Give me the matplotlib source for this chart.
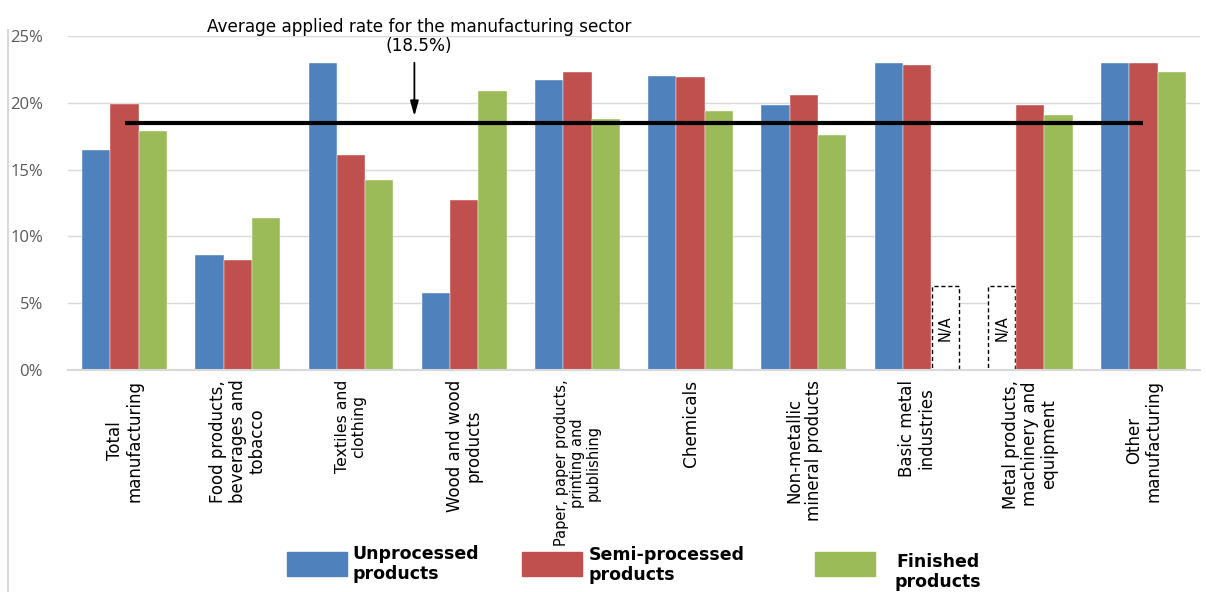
import numpy as np
import matplotlib
matplotlib.use('Agg')
import matplotlib.pyplot as plt
from matplotlib.patches import Rectangle
from matplotlib.lines import Line2D

# 数据（从原图读取，单位 %）
categories = [
    "Total\nmanufacturing",
    "Food products,\nbeverages and\ntobacco",
    "Textiles and\nclothing",
    "Wood and wood\nproducts",
    "Paper, paper products,\nprinting and\npublishing",
    "Chemicals",
    "Non-metallic\nmineral products",
    "Basic metal\nindustries",
    "Metal products,\nmachinery and\nequipment",
    "Other\nmanufacturing",
]
unprocessed = [16.5, 8.6, 23.0, 5.8, 21.7, 22.0, 19.8, 23.0, np.nan, 23.0]
semi_processed = [19.9, 8.2, 16.1, 12.7, 22.3, 21.9, 20.6, 22.8, 19.8, 23.0]
finished = [17.9, 11.4, 14.2, 20.9, 18.8, 19.4, 17.6, np.nan, 19.1, 22.3]
average_rate = 18.5
na_box_height = 6.3

series_names = ["Unprocessed\nproducts", "Semi-processed\nproducts", "Finished\nproducts"]
colors = ['#4F81BD', '#C0504D', '#9BBB59']
label_sizes = [12, 12, 11.3, 12, 10.5, 12.2, 12, 12, 12, 12]

W, H = 1206, 592
fig = plt.figure(figsize=(W / 100, H / 100), dpi=100)
ax = fig.add_axes([68 / W, 1 - 370 / H, (1200 - 68) / W, (370 - 36) / H])

x = np.arange(len(categories))
bw = 0.25
all_series = [unprocessed, semi_processed, finished]
for k, (vals, c) in enumerate(zip(all_series, colors)):
    pos = x + (k - 1) * bw
    vals = np.array(vals, dtype=float)
    ax.bar(pos, vals, width=bw, color=c, edgecolor='white', linewidth=0.3, zorder=2)
    # N/A 虚线框
    na = np.isnan(vals)
    if na.any():
        ax.bar(pos[na], [na_box_height] * na.sum(), width=bw * 0.95, facecolor='white',
               edgecolor='black', linestyle=(0, (3, 2)), linewidth=1.0, zorder=2)
        for p in pos[na]:
            ax.text(p, na_box_height / 2, 'N/A', rotation=90, ha='center', va='center',
                    fontsize=10.5, zorder=3)

# 平均线
ax.plot([x[0], x[-1]], [average_rate, average_rate], color='black', lw=3, zorder=4,
        solid_capstyle='butt')
ax.annotate('', xy=(2.56, 19.0), xytext=(2.56, 23.0),
            arrowprops=dict(arrowstyle='-|>,head_length=0.9,head_width=0.25',
                            color='black', lw=1.3, shrinkA=0, shrinkB=0), zorder=5)
ax.text(2.60, 24.95, 'Average applied rate for the manufacturing sector\n(18.5%)',
        ha='center', va='center', fontsize=12.2, linespacing=1.1, clip_on=False)

ax.set_xlim(-0.5, len(categories) - 0.5)
ax.set_ylim(0, 25)
ax.set_yticks([0, 5, 10, 15, 20, 25])
ax.set_yticklabels(['0%', '5%', '10%', '15%', '20%', '25%'], color='#595959',
                   fontsize=12, family='Open Sans')
ax.yaxis.grid(True, color='#D9D9D9', lw=1, zorder=0)
ax.set_axisbelow(True)
for s in ['top', 'right', 'left']:
    ax.spines[s].set_visible(False)
ax.spines['bottom'].set_color('#D9D9D9')
ax.spines['bottom'].set_linewidth(1.5)
ax.tick_params(axis='both', length=0)
ax.tick_params(axis='y', pad=18)
ax.tick_params(axis='x', pad=7)

ax.set_xticks(x)
ax.set_xticklabels(categories, rotation=90, ha='center', va='top', multialignment='center',
                   linespacing=1.1)
for t, s in zip(ax.get_xticklabels(), label_sizes):
    t.set_fontsize(s)

# 左侧边框
fig.add_artist(Line2D([8 / W, 8 / W], [0, 1 - 30 / H], color='#D9D9D9', lw=1.5))

# 图例（手动放置）
legend_layout = [(287, 352, 'left', 564), (522, 589, 'left', 565), (815, 938, 'center', 572)]
for (px, tx, ha, ty), name, c in zip(legend_layout, series_names, colors):
    fig.add_artist(Rectangle((px / W, 1 - 576 / H), 60 / W, 24 / H, color=c,
                             transform=fig.transFigure))
    fig.text(tx / W, 1 - ty / H, name, ha=ha, va='center', fontsize=12.5, fontweight='bold',
             multialignment=ha, linespacing=1.15)

fig.savefig('out.png', dpi=100)
